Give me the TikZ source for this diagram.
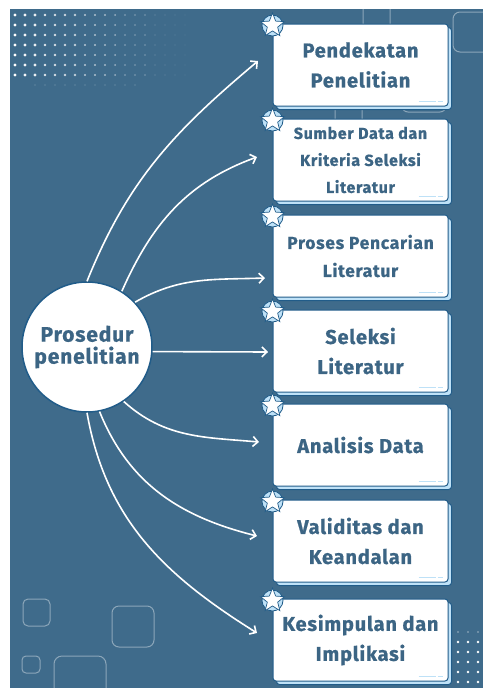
\documentclass[tikz,border=0pt]{standalone}
\usepackage{fontspec}
\setmainfont{Fira Sans}[LetterSpace=4, BoldFeatures={FakeBold=0.8}]
\usetikzlibrary{arrows.meta,shapes.geometric,shadows}
\definecolor{bgblue}{HTML}{3F6B8B}
\definecolor{edgeblue}{HTML}{215C89}
\definecolor{txtblue}{HTML}{3C6584}
\definecolor{paleblue}{HTML}{BEE1F7}

\begin{document}
\begin{tikzpicture}[x=1pt, y=1pt,
    stepcard/.style={rectangle, draw=edgeblue, line width=1pt, fill=white, rounded corners=3pt, minimum width=175pt, minimum height=82pt, align=center, text=txtblue, font=\bfseries\fontsize{20}{30}\selectfont, copy shadow={shadow xshift=3.5pt, shadow yshift=-3.5pt, fill=paleblue, draw=edgeblue, line width=1pt}},
    hub/.style={circle, draw=edgeblue, line width=1.5pt, fill=white, minimum size=130pt, inner sep=0pt, align=center, text=txtblue, font=\bfseries\fontsize{21}{22}\selectfont},
    arr/.style={-{Straight Barb[length=5pt,width=10pt]}, line width=1.6pt, white},
    badge/.style={circle, draw=edgeblue, line width=0.8pt, fill=paleblue, minimum size=21pt, inner sep=0pt},
    badgestar/.style={star, star points=5, star point ratio=2.3, draw=edgeblue, line width=0.7pt, fill=white, minimum size=25pt, inner sep=0pt},
    deco/.style={draw=white, draw opacity=0.4, line width=1pt, rounded corners=6pt},
    dashmark/.style={paleblue, line width=1.6pt}
]
\useasboundingbox (0,0) rectangle (483,-688);
\fill[bgblue] (10,-9) rectangle (483,-688);

% background decoration
\begin{scope}
\clip (10,-9) rectangle (483,-688);
\foreach \i in {0,...,17}
  \foreach \j in {0,...,6}
    \fill[white, opacity={1-\i/19}] ({15+10*\i},{-15-10*\j}) circle ({1.7-0.07*\i});
\foreach \i in {2,...,12}
  \fill[white, opacity=0.35] ({15+10*\i},-85) circle (0.7);
\foreach \i in {0,1,2} {
  \fill[white, opacity=0.5] ({458+10*\i},-632) circle (0.8);
  \foreach \j in {1,...,5}
    \fill[white] ({458+10*\i},{-632-10*\j}) circle (1.3);
}
\draw[deco] (363,0) rectangle (390,-60);
\draw[deco] (335,-60) rectangle (362,-170);
\draw[deco] (402,-40) rectangle (446,-112);
\draw[deco, rounded corners=7pt] (453,-12) rectangle (500,-52);
\draw[deco, rounded corners=5pt] (23,-599) rectangle (50,-626);
\draw[deco, rounded corners=7pt] (112,-606) rectangle (154,-647);
\draw[deco, rounded corners=4pt] (22,-656) rectangle (40,-673);
\draw[deco, rounded corners=8pt] (54,-656) rectangle (106,-710);
\end{scope}

% hub and steps
\node[hub] (hub) at (87,-347) {Prosedur\\penelitian};

\node[stepcard] (b1) at (360.5,-65) {Pendekatan\\Penelitian};
\node[stepcard, font=\bfseries\fontsize{16}{27}\selectfont] (b2) at (360.5,-160) {Sumber Data dan\\Kriteria Seleksi\\Literatur};
\node[stepcard, font=\bfseries\fontsize{17.5}{28}\selectfont] (b3) at (360.5,-256) {Proses Pencarian\\Literatur};
\node[stepcard] (b4) at (360.5,-351) {Seleksi\\Literatur};
\node[stepcard] (b5) at (360.5,-445) {Analisis Data};
\node[stepcard] (b6) at (360.5,-541) {Validitas dan\\Keandalan};
\node[stepcard] (b7) at (360.5,-640) {Kesimpulan dan\\Implikasi};

\foreach \b in {b1,b2,b3,b4,b5,b6,b7} {
  \draw[dashmark] ([shift={(-30,5)}]\b.south east) -- ++(17,0) ++(2,0) -- ++(5,0);
  \node[badge] (\b-ring) at ([yshift=-2pt]\b.north west) {};
  \node[badgestar] (\b-star) at ([yshift=-2pt]\b.north west) {};
}

% arrow ends
\coordinate (t1) at (258,-61);
\coordinate (t2) at (257,-157);
\coordinate (t3) at (265,-278);
\coordinate (t4) at (268,-352);
\coordinate (t5) at (259,-442);
\coordinate (t6) at (257,-536);
\coordinate (t7) at (257,-633);

\draw[arr] (hub.90) to[out=68, in=220] (t1);
\draw[arr] (hub.58) to[out=66, in=200] (t2);
\draw[arr] (hub.43) to[out=30, in=182] (t3);
\draw[arr] (hub.-4) -- (t4);
\draw[arr] (hub.-56) to[out=-42, in=175] (t5);
\draw[arr] (hub.-79) to[out=-68, in=166] (t6);
\draw[arr] (hub.-90) to[out=-80, in=148] (t7);
\end{tikzpicture}
\end{document}
